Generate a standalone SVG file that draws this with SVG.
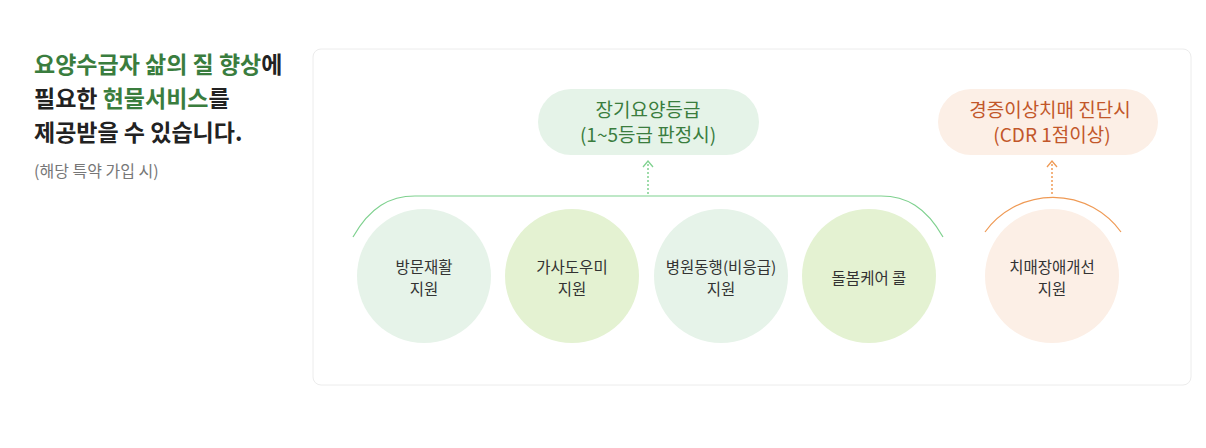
<svg xmlns="http://www.w3.org/2000/svg" width="1206" height="448" viewBox="0 0 1206 448">
<style>
text{font-family:"Noto Sans CJK KR","Noto Sans",sans-serif}
.h{font-size:23px;font-weight:bold;fill:#222}
.g{fill:#3a7d3e}
.sub{font-size:16px;fill:#777}
.pt{font-size:19px;text-anchor:middle}
.ct{font-size:15.5px;fill:#333;text-anchor:middle}
</style>
<defs>
<marker id="ag" markerWidth="12" markerHeight="8" refX="6" refY="1" orient="0" markerUnits="userSpaceOnUse"><path d="M1,7 L6,1 L11,7" fill="none" stroke="#7fd18f" stroke-width="1.3"/></marker>
<marker id="ao" markerWidth="12" markerHeight="8" refX="6" refY="1" orient="0" markerUnits="userSpaceOnUse"><path d="M1,7 L6,1 L11,7" fill="none" stroke="#ef9a55" stroke-width="1.3"/></marker>
</defs>
<rect width="1206" height="448" fill="#fff"/>
<g id="title">
<text class="h" x="34" y="73"><tspan class="g">요양수급자 삶의 질 향상</tspan>에</text>
<text class="h" x="34" y="107">필요한 <tspan class="g">현물서비스</tspan>를</text>
<text class="h" x="34" y="141">제공받을 수 있습니다.</text>
<text class="sub" x="34" y="177">(해당 특약 가입 시)</text>
</g>
<rect x="313" y="49" width="878" height="336" rx="8" fill="#fff" stroke="#ececec"/>
<g id="connectors" fill="none">
<path d="M353,237 C370,207 390,196 415,196 L881,196 C906,196 926,207 943,237" stroke="#7fd18f" stroke-width="1.2"/>
<path d="M985,232 A84,84 0 0 1 1121,232" stroke="#ef9a55" stroke-width="1.2"/>
<path d="M648,194 L648,161" stroke="#7fd18f" stroke-width="1.5" stroke-dasharray="2,2" marker-end="url(#ag)"/>
<path d="M1052,194 L1052,161" stroke="#ef9a55" stroke-width="1.5" stroke-dasharray="2,2" marker-end="url(#ao)"/>
</g>
<g id="pill1"><rect x="538" y="89" width="221" height="66" rx="33" fill="#e5f3e8"/>
<text class="pt" fill="#3a7d3e" x="648" y="117">장기요양등급</text><text class="pt" fill="#3a7d3e" x="648" y="142">(1~5등급 판정시)</text></g>
<g id="pill2"><rect x="938" y="89" width="220" height="66" rx="33" fill="#fcefe6"/>
<text class="pt" fill="#c2572a" x="1050" y="117">경증이상치매 진단시</text><text class="pt" fill="#c2572a" x="1052" y="142">(CDR 1점이상)</text></g>
<g id="n1"><circle cx="424" cy="276" r="67" fill="#e6f3e9"/><text class="ct" x="424" y="273">방문재활</text><text class="ct" x="424" y="295">지원</text></g>
<g id="n2"><circle cx="572" cy="276" r="67" fill="#e4f2d2"/><text class="ct" x="572" y="273">가사도우미</text><text class="ct" x="572" y="295">지원</text></g>
<g id="n3"><circle cx="721" cy="276" r="67" fill="#e6f3e9"/><text class="ct" x="721" y="273">병원동행(비응급)</text><text class="ct" x="721" y="295">지원</text></g>
<g id="n4"><circle cx="869" cy="276" r="67" fill="#e4f2d2"/><text class="ct" x="869" y="284">돌봄케어 콜</text></g>
<g id="n5"><circle cx="1052" cy="276" r="67" fill="#fcefe6"/><text class="ct" x="1052" y="273">치매장애개선</text><text class="ct" x="1052" y="295">지원</text></g>
</svg>
